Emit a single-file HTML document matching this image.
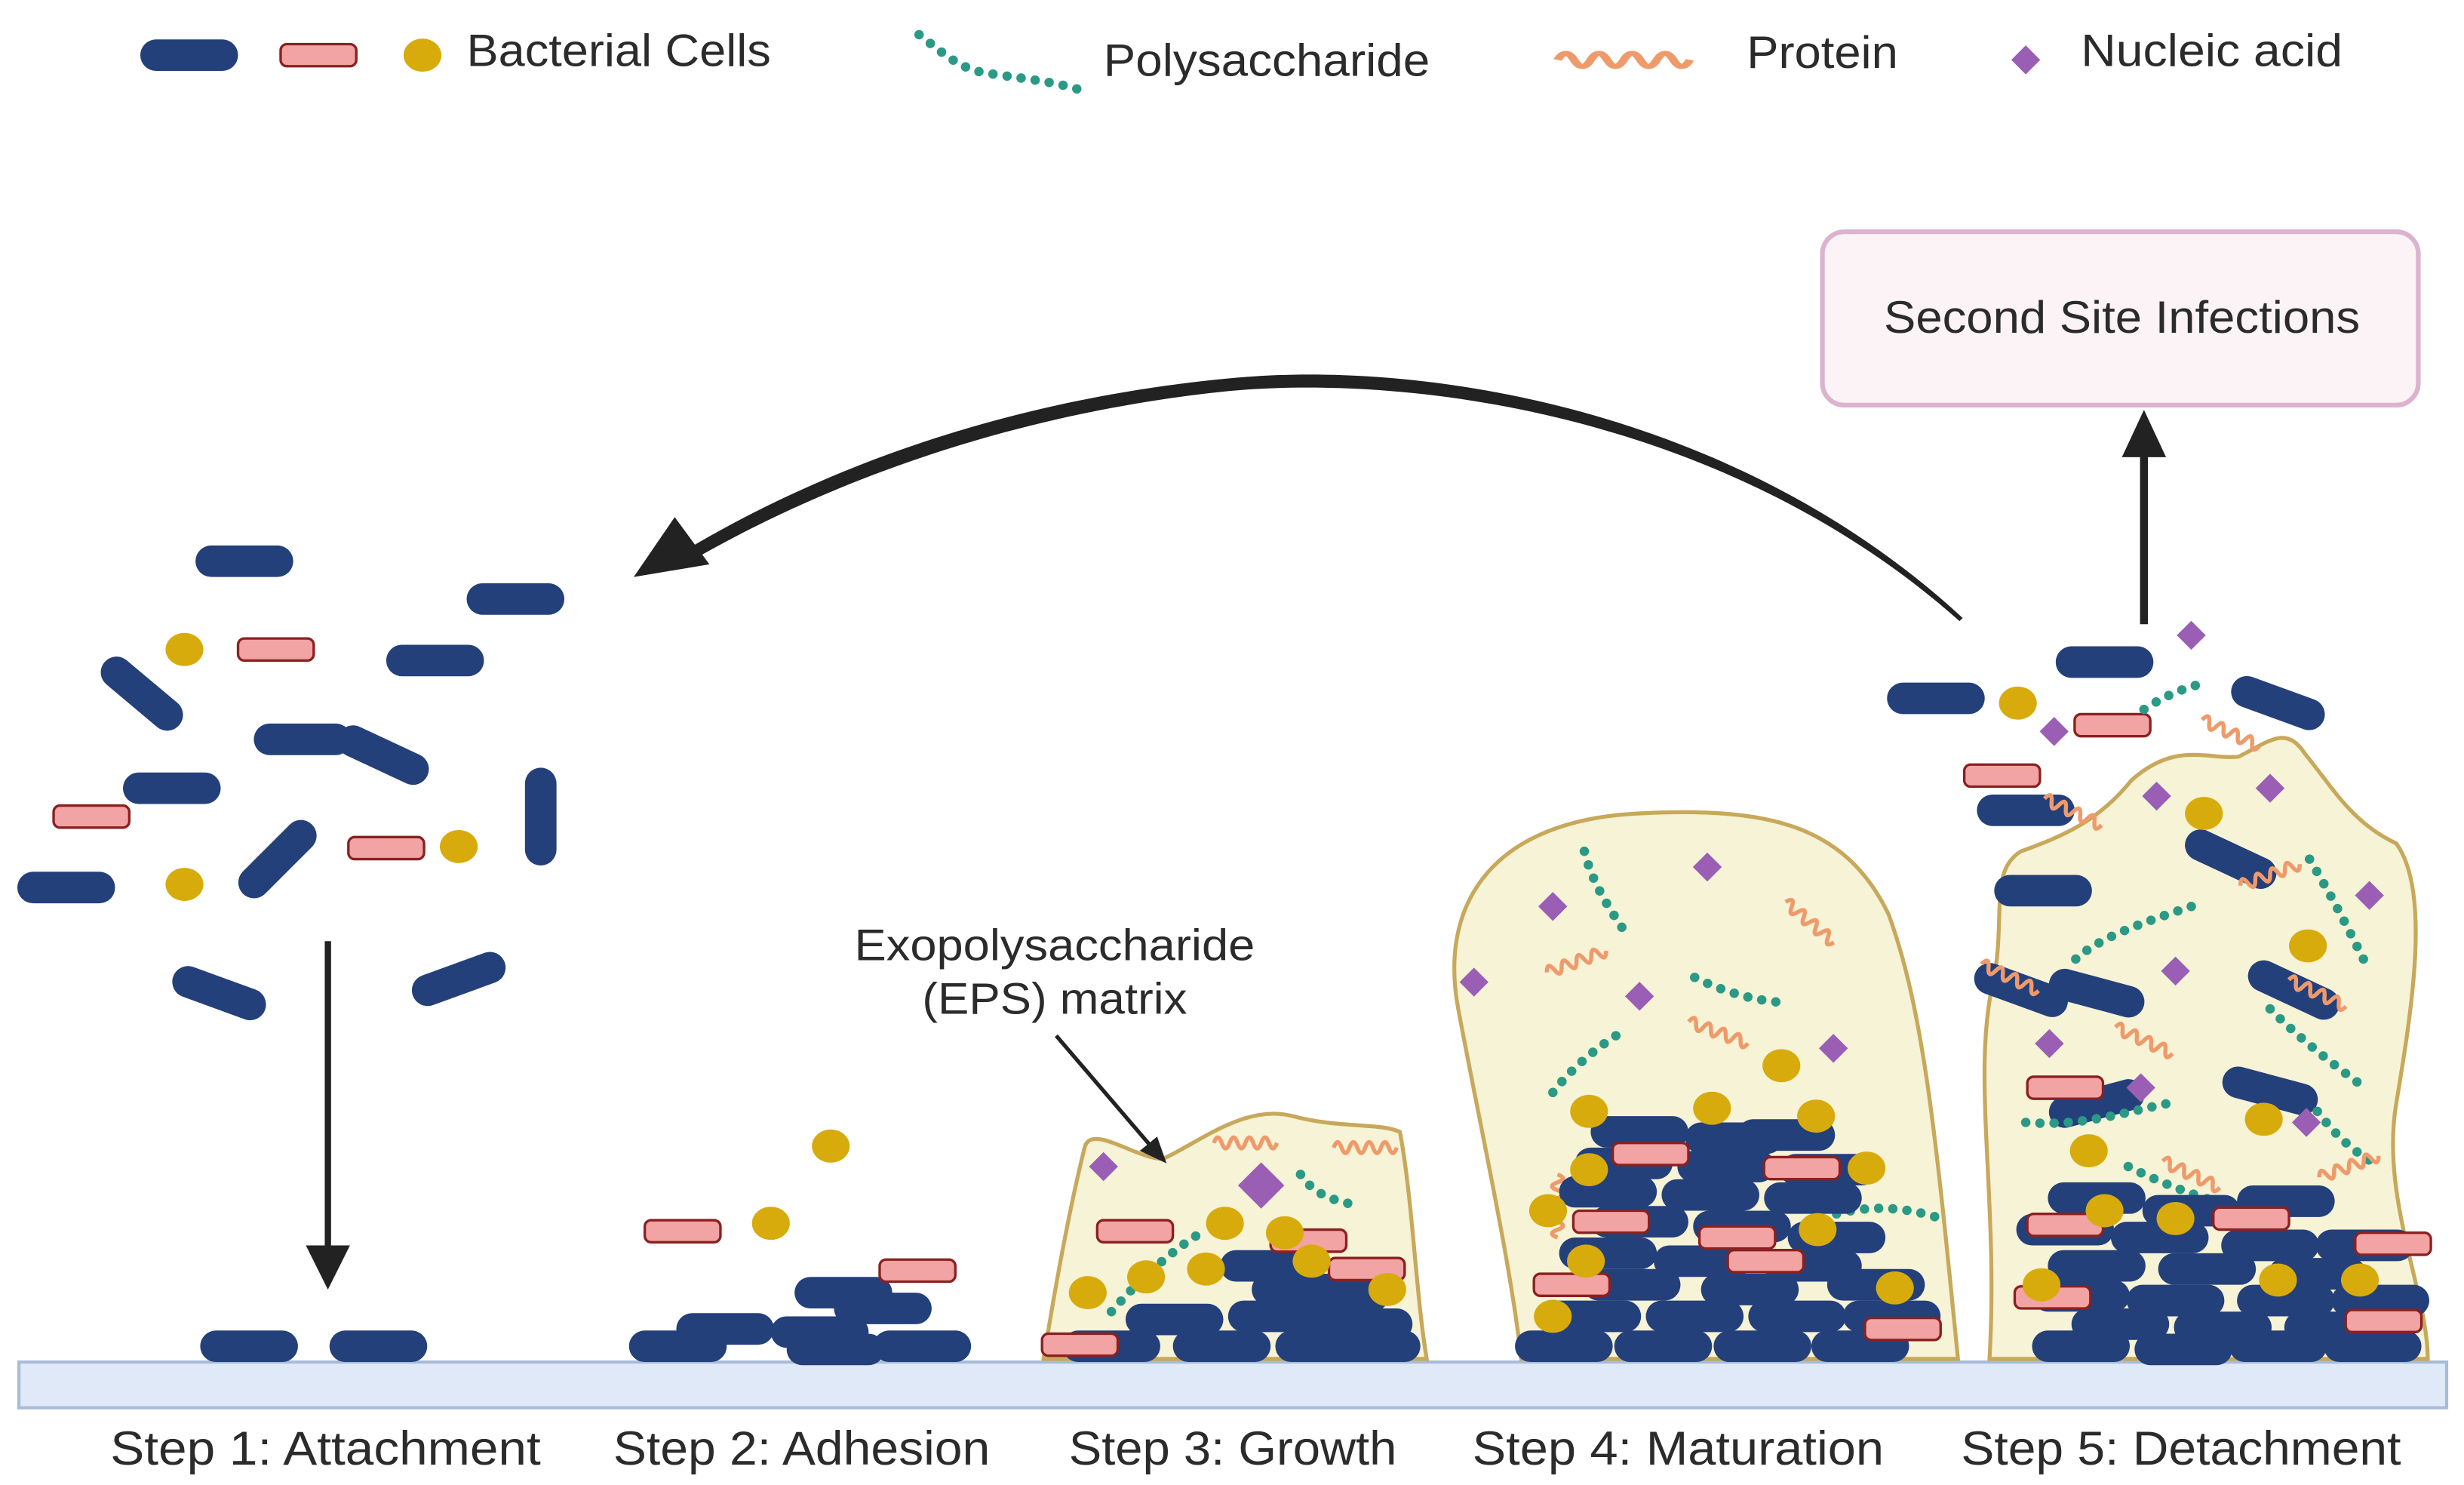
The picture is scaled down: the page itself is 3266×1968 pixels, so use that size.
<!DOCTYPE html>
<html><head><meta charset="utf-8"><style>
html,body{margin:0;padding:0;background:#fff}
svg{display:block}
text{font-family:"Liberation Sans",sans-serif;fill:#2b2b2b}
</style></head><body>
<svg width="3266" height="1968" viewBox="0 0 1563 942" preserveAspectRatio="none" xmlns="http://www.w3.org/2000/svg">
<defs>
<g id="r"><rect x="-31" y="-10" width="62" height="20" rx="10" fill="#24407a"/></g>
<g id="p"><rect x="-24" y="-7" width="48" height="14" rx="4" fill="#f2a3a3" stroke="#8b2020" stroke-width="1.6"/></g>
<g id="y"><ellipse rx="12" ry="10.5" fill="#d8ab0c"/></g>
<g id="d"><rect x="-6.5" y="-6.5" width="13" height="13" fill="#9a5fb5" transform="rotate(45)"/></g>
<g id="w"><path d="M-20,0 q2.5,-7 5,0 t5,0 t5,0 t5,0 t5,0 t5,0 t5,0 t5,0" fill="none" stroke="#ef9a6a" stroke-width="2.6"/></g>
</defs>
<style>.ch{fill:none;stroke:#2a9a86;stroke-width:6;stroke-dasharray:0 9;stroke-linecap:round}</style>

<!-- legend -->
<use href="#r" x="120" y="35"/><use href="#p" x="202" y="35"/><use href="#y" x="268" y="35"/>
<text x="296" y="42" font-size="29" textLength="193" lengthAdjust="spacingAndGlyphs">Bacterial Cells</text>
<path class="ch" d="M583,22 C600,35 610,45 630,47 C650,50 670,52 685,57"/>
<text x="700" y="48" font-size="29" textLength="207" lengthAdjust="spacingAndGlyphs">Polysaccharide</text>
<g transform="translate(1030,38) scale(2.1,1.2)"><use href="#w"/></g>
<text x="1108" y="43" font-size="29" textLength="96" lengthAdjust="spacingAndGlyphs">Protein</text>
<use href="#d" x="1285" y="38"/>
<text x="1320" y="42" font-size="29" textLength="166" lengthAdjust="spacingAndGlyphs">Nucleic acid</text>

<!-- second site box -->
<rect x="1156" y="147" width="378" height="110" rx="14" fill="#fcf3f7" stroke="#dcb3cc" stroke-width="3"/>
<text x="1195" y="211" font-size="29" textLength="302" lengthAdjust="spacingAndGlyphs">Second Site Infections</text>
<line x1="1360" y1="396" x2="1360" y2="285" stroke="#222" stroke-width="5"/>
<polygon points="1360,260 1346,290 1374,290" fill="#222"/>

<!-- curved arrow (tapered) -->
<path d="M1245,392 C1100,258 900,228 780,240 C640,253 520,297 430,352 L433,359 C523,306 642,262 780,248 C900,237 1098,265 1243,394 Z" fill="#222"/>
<polygon points="402,366 428,328 450,358" fill="#222"/>

<!-- step1 arrow -->
<line x1="208" y1="597" x2="208" y2="795" stroke="#222" stroke-width="4"/>
<polygon points="208,818 194,790 222,790" fill="#222"/>

<!-- substrate -->
<rect x="12" y="864" width="1540" height="29" fill="#dfe9f7" stroke="#a8bcd8" stroke-width="2"/>

<!-- step1 cells -->
<use href="#r" x="155" y="356"/><use href="#r" x="327" y="380"/><use href="#r" x="276" y="419"/>
<use href="#r" x="192" y="469"/><use href="#r" x="109" y="500"/><use href="#r" x="42" y="563"/>
<use href="#r" x="158" y="854"/><use href="#r" x="240" y="854"/>
<use href="#r" transform="translate(90,440) rotate(40)"/><use href="#r" transform="translate(243,479) rotate(25)"/>
<use href="#r" transform="translate(343,518) rotate(90)"/><use href="#r" transform="translate(176,545) rotate(-45)"/>
<use href="#r" transform="translate(139,630) rotate(20)"/><use href="#r" transform="translate(291,621) rotate(-20)"/>
<use href="#p" x="175" y="412"/><use href="#p" x="58" y="518"/><use href="#p" x="245" y="538"/>
<use href="#y" x="117" y="412"/><use href="#y" x="117" y="561"/><use href="#y" x="291" y="537"/>

<!-- step2 -->
<use href="#r" x="535" y="820"/><use href="#r" x="560" y="830"/><use href="#r" x="460" y="843"/><use href="#r" x="520" y="845"/>
<use href="#r" x="430" y="854"/><use href="#r" x="530" y="856"/><use href="#r" x="585" y="854"/>
<use href="#p" x="433" y="781"/><use href="#p" x="582" y="806"/>
<use href="#y" x="527" y="727"/><use href="#y" x="489" y="776"/>

<!-- step3 -->
<path d="M662,862 C672,800 680,760 688,728 C692,712 722,736 738,735 C760,725 790,700 820,708 C850,716 875,712 888,718 C896,760 898,820 905,862 Z" fill="#f6f3d6" stroke="#c8a85a" stroke-width="2.5"/>
<use href="#d" x="700" y="740"/><g transform="translate(800,752) scale(1.6)"><use href="#d"/></g>
<use href="#w" x="790" y="725"/><use href="#w" x="866" y="728"/>
<path class="ch" d="M825,745 C835,760 850,762 862,765"/>
<path class="ch" d="M705,832 C720,815 740,795 765,780"/>
<use href="#r" x="805" y="803"/><use href="#r" x="825" y="818"/><use href="#r" x="850" y="822"/>
<use href="#r" x="745" y="837"/><use href="#r" x="810" y="835"/><use href="#r" x="865" y="840"/>
<use href="#r" x="705" y="854"/><use href="#r" x="775" y="854"/><use href="#r" x="840" y="854"/><use href="#r" x="870" y="854"/>
<use href="#p" x="685" y="853"/><use href="#p" x="720" y="781"/><use href="#p" x="830" y="787"/><use href="#p" x="867" y="805"/>
<use href="#y" x="690" y="820"/><use href="#y" x="727" y="810"/><use href="#y" x="765" y="805"/><use href="#y" x="777" y="776"/>
<use href="#y" x="815" y="782"/><use href="#y" x="832" y="800"/><use href="#y" x="880" y="818"/>

<!-- step4 -->
<path d="M965,862 C958,800 940,720 925,640 C912,570 950,520 1040,516 C1120,512 1170,522 1198,580 C1220,640 1228,720 1242,862 Z" fill="#f6f3d6" stroke="#c8a85a" stroke-width="2.5"/>
<use href="#d" x="985" y="575"/><use href="#d" x="1083" y="550"/><use href="#d" x="935" y="623"/><use href="#d" x="1040" y="632"/><use href="#d" x="1163" y="665"/>
<path class="ch" d="M1005,540 C1010,560 1020,575 1030,590"/>
<path class="ch" d="M1075,620 C1095,630 1115,635 1132,636"/>
<path class="ch" d="M1025,657 C1005,670 990,685 980,700"/>
<path class="ch" d="M1165,770 C1185,765 1205,765 1228,772"/>
<use href="#w" x="1000" y="610" transform="rotate(-20 1000 610)"/><use href="#w" x="1148" y="585" transform="rotate(40 1148 585)"/>
<use href="#w" x="1090" y="655" transform="rotate(20 1090 655)"/>
<use href="#w" x="988" y="765" transform="rotate(90 988 765)"/>
<use href="#r" x="1040" y="718"/><use href="#r" x="1100" y="722"/><use href="#r" x="1133" y="720"/>
<use href="#r" x="1030" y="738"/><use href="#r" x="1095" y="740"/><use href="#r" x="1160" y="742"/>
<use href="#r" x="1020" y="756"/><use href="#r" x="1085" y="758"/><use href="#r" x="1150" y="760"/>
<use href="#r" x="1040" y="775"/><use href="#r" x="1105" y="778"/><use href="#r" x="1165" y="785"/>
<use href="#r" x="1020" y="795"/><use href="#r" x="1080" y="800"/><use href="#r" x="1150" y="803"/>
<use href="#r" x="1035" y="815"/><use href="#r" x="1110" y="818"/><use href="#r" x="1190" y="815"/>
<use href="#r" x="1010" y="835"/><use href="#r" x="1075" y="835"/><use href="#r" x="1140" y="835"/><use href="#r" x="1200" y="835"/>
<use href="#r" x="992" y="854"/><use href="#r" x="1055" y="854"/><use href="#r" x="1118" y="854"/><use href="#r" x="1180" y="854"/>
<use href="#p" x="1047" y="732"/><use href="#p" x="1143" y="741"/><use href="#p" x="1022" y="775"/><use href="#p" x="1102" y="785"/>
<use href="#p" x="1120" y="800"/><use href="#p" x="997" y="815"/><use href="#p" x="1207" y="843"/>
<use href="#y" x="1008" y="705"/><use href="#y" x="1086" y="703"/><use href="#y" x="1130" y="676"/><use href="#y" x="1152" y="708"/>
<use href="#y" x="1008" y="742"/><use href="#y" x="1184" y="741"/><use href="#y" x="982" y="768"/><use href="#y" x="1153" y="780"/>
<use href="#y" x="1006" y="800"/><use href="#y" x="985" y="835"/><use href="#y" x="1202" y="817"/>

<!-- step5 -->
<path d="M1262,862 C1268,760 1250,680 1265,620 C1272,580 1262,552 1282,540 C1310,530 1332,520 1352,495 C1380,470 1400,482 1420,480 C1440,470 1450,460 1462,478 C1480,500 1492,522 1520,535 C1542,565 1530,640 1520,700 C1510,760 1540,820 1540,862 Z" fill="#f6f3d6" stroke="#c8a85a" stroke-width="2.5"/>
<use href="#r" x="1228" y="443"/><use href="#r" x="1335" y="420"/><use href="#r" transform="translate(1445,446) rotate(20)"/>
<use href="#r" x="1285" y="514"/><use href="#r" x="1296" y="565"/><use href="#r" transform="translate(1415,545) rotate(25)"/>
<use href="#r" transform="translate(1282,628) rotate(20)"/><use href="#r" transform="translate(1330,630) rotate(15)"/>
<use href="#r" transform="translate(1455,628) rotate(25)"/><use href="#r" transform="translate(1440,692) rotate(15)"/>
<use href="#r" transform="translate(1330,700) rotate(-15)"/>
<use href="#p" x="1340" y="460"/><use href="#p" x="1270" y="492"/><use href="#p" x="1310" y="690"/>
<use href="#y" x="1280" y="446"/><use href="#y" x="1398" y="516"/><use href="#y" x="1464" y="600"/><use href="#y" x="1436" y="710"/><use href="#y" x="1325" y="730"/>
<use href="#d" x="1390" y="403"/><use href="#d" x="1303" y="464"/><use href="#d" x="1368" y="505"/><use href="#d" x="1440" y="500"/>
<use href="#d" x="1503" y="568"/><use href="#d" x="1380" y="616"/><use href="#d" x="1300" y="662"/><use href="#d" x="1358" y="690"/><use href="#d" x="1463" y="712"/>
<path class="ch" d="M1360,450 C1375,440 1390,435 1400,433"/>
<path class="ch" d="M1465,545 C1480,570 1490,590 1500,610"/>
<path class="ch" d="M1390,575 C1360,585 1330,595 1315,610"/>
<path class="ch" d="M1440,640 C1460,660 1480,675 1500,690"/>
<path class="ch" d="M1285,712 C1320,715 1350,705 1375,700"/>
<path class="ch" d="M1470,705 C1485,725 1500,735 1510,740"/>
<path class="ch" d="M1350,740 C1380,755 1410,765 1440,770"/>
<use href="#w" x="1415" y="465" transform="rotate(25 1415 465)"/><use href="#w" x="1315" y="515" transform="rotate(25 1315 515)"/>
<use href="#w" x="1440" y="555" transform="rotate(-20 1440 555)"/><use href="#w" x="1275" y="620" transform="rotate(25 1275 620)"/>
<use href="#w" x="1470" y="630" transform="rotate(25 1470 630)"/><use href="#w" x="1360" y="660" transform="rotate(25 1360 660)"/>
<use href="#w" x="1390" y="745" transform="rotate(25 1390 745)"/><use href="#w" x="1490" y="740" transform="rotate(-20 1490 740)"/>
<use href="#r" x="1330" y="760"/><use href="#r" x="1450" y="762"/><use href="#r" x="1390" y="768"/>
<use href="#r" x="1310" y="780"/><use href="#r" x="1370" y="785"/><use href="#r" x="1440" y="790"/><use href="#r" x="1500" y="790"/>
<use href="#r" x="1330" y="803"/><use href="#r" x="1400" y="805"/><use href="#r" x="1470" y="808"/>
<use href="#r" x="1320" y="822"/><use href="#r" x="1380" y="825"/><use href="#r" x="1450" y="825"/><use href="#r" x="1510" y="825"/>
<use href="#r" x="1345" y="840"/><use href="#r" x="1410" y="842"/><use href="#r" x="1480" y="842"/>
<use href="#r" x="1320" y="854"/><use href="#r" x="1385" y="856"/><use href="#r" x="1445" y="854"/><use href="#r" x="1505" y="854"/>
<use href="#p" x="1310" y="777"/><use href="#p" x="1428" y="773"/><use href="#p" x="1518" y="789"/><use href="#p" x="1302" y="823"/><use href="#p" x="1512" y="838"/>
<use href="#y" x="1335" y="768"/><use href="#y" x="1380" y="773"/><use href="#y" x="1295" y="815"/><use href="#y" x="1445" y="812"/><use href="#y" x="1497" y="812"/>

<!-- labels -->
<text x="542" y="609" font-size="28" textLength="254" lengthAdjust="spacingAndGlyphs">Exopolysaccharide</text>
<text x="585" y="643" font-size="28" textLength="168" lengthAdjust="spacingAndGlyphs">(EPS) matrix</text>
<line x1="670" y1="657" x2="730" y2="727" stroke="#222" stroke-width="2.5"/>
<polygon points="740,738 723,730 734,721" fill="#222"/>

<text x="70" y="929" font-size="30" textLength="273" lengthAdjust="spacingAndGlyphs">Step 1: Attachment</text>
<text x="389" y="929" font-size="30" textLength="239" lengthAdjust="spacingAndGlyphs">Step 2: Adhesion</text>
<text x="678" y="929" font-size="30" textLength="208" lengthAdjust="spacingAndGlyphs">Step 3: Growth</text>
<text x="934" y="929" font-size="30" textLength="261" lengthAdjust="spacingAndGlyphs">Step 4: Maturation</text>
<text x="1244" y="929" font-size="30" textLength="279" lengthAdjust="spacingAndGlyphs">Step 5: Detachment</text>
</svg>
</body></html>
